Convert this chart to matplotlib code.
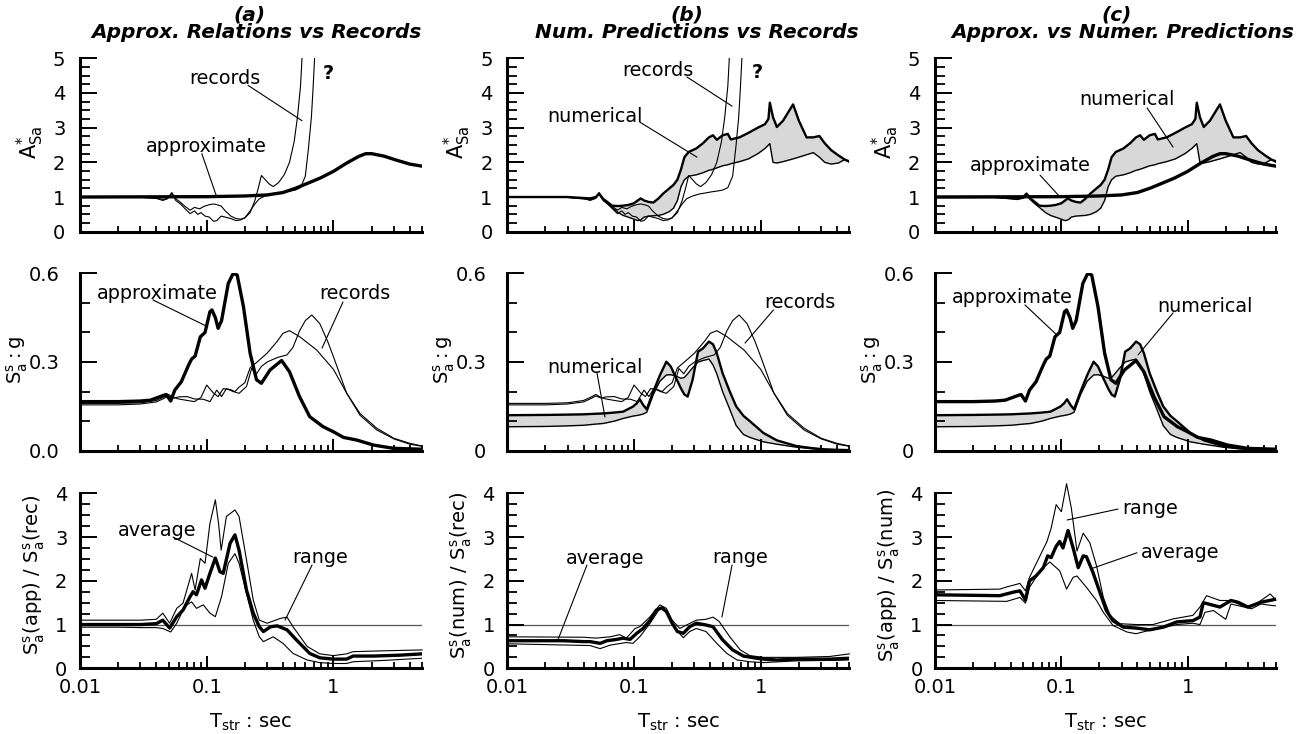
import numpy as np
import matplotlib
matplotlib.use('Agg')
import matplotlib.pyplot as plt
from matplotlib.ticker import FixedLocator, FixedFormatter, MultipleLocator, LogLocator, NullFormatter

plt.rcParams['font.family'] = ['DejaVu Sans']
plt.rcParams['mathtext.fontset'] = 'dejavusans'

# ---------------- top row: normalised spectral amplification A*_Sa ----------------
T_app_A = [0.01, 0.1, 0.2, 0.3, 0.4, 0.5, 0.63, 0.79, 1.0, 1.26, 1.58, 1.8, 2.0, 2.5, 3.16, 4.0, 5.0]
A_app = [1.0, 1.01, 1.03, 1.06, 1.13, 1.25, 1.4, 1.55, 1.74, 1.97, 2.17, 2.25, 2.25, 2.18, 2.06, 1.95, 1.89]

T_rec1_A = [0.01, 0.02, 0.03, 0.04, 0.045, 0.049, 0.053, 0.057, 0.062, 0.068, 0.074, 0.08, 0.088, 0.095,
            0.105, 0.113, 0.12, 0.13, 0.14, 0.155, 0.17, 0.185, 0.2, 0.22, 0.24, 0.255, 0.27, 0.29, 0.31,
            0.335, 0.37, 0.41, 0.45, 0.49, 0.52, 0.55, 0.565]
A_rec1 = [1.0, 1.0, 0.99, 0.97, 0.93, 0.96, 1.13, 0.95, 0.85, 0.72, 0.62, 0.7, 0.66, 0.73, 0.78, 0.8, 0.78,
          0.74, 0.6, 0.45, 0.38, 0.36, 0.4, 0.55, 0.9, 1.25, 1.62, 1.5, 1.38, 1.3, 1.42, 1.65, 2.0, 2.6,
          3.3, 4.2, 5.0]

T_rec2_A = [0.01, 0.02, 0.03, 0.04, 0.045, 0.049, 0.053, 0.057, 0.062, 0.068, 0.074, 0.08, 0.085, 0.09,
            0.097, 0.105, 0.113, 0.12, 0.13, 0.14, 0.155, 0.17, 0.185, 0.2, 0.22, 0.24, 0.26, 0.29, 0.33,
            0.37, 0.41, 0.45, 0.5, 0.55, 0.6, 0.635, 0.67, 0.69, 0.71]
A_rec2 = [1.0, 1.0, 0.99, 0.96, 0.9, 0.95, 1.1, 0.9, 0.8, 0.65, 0.52, 0.6, 0.5, 0.55, 0.45, 0.42, 0.3, 0.32,
          0.45, 0.42, 0.38, 0.32, 0.34, 0.4, 0.6, 0.8, 0.95, 1.03, 1.09, 1.12, 1.15, 1.17, 1.2, 1.27, 1.6,
          2.4, 3.3, 4.1, 5.0]

T_num_A = [0.01, 0.03, 0.045, 0.05, 0.053, 0.057, 0.062, 0.067, 0.075, 0.082, 0.09, 0.1, 0.107, 0.113,
           0.12, 0.13, 0.142, 0.155, 0.17, 0.19, 0.205, 0.22, 0.235, 0.25, 0.27, 0.31, 0.35, 0.39, 0.42,
           0.45, 0.5, 0.55, 0.58, 0.68, 0.8, 0.95, 1.08, 1.15, 1.18, 1.25, 1.34, 1.5, 1.8, 2.0, 2.3, 2.6,
           2.9, 3.2, 3.6, 4.1, 4.6, 5.0]
A_num_hi = [1.0, 1.0, 0.96, 1.0, 1.1, 0.95, 0.85, 0.75, 0.74, 0.75, 0.77, 0.82, 0.9, 0.96, 0.9, 0.86, 0.84,
            0.95, 1.1, 1.25, 1.35, 1.5, 1.8, 2.15, 2.3, 2.4, 2.55, 2.72, 2.78, 2.65, 2.78, 2.82, 2.66, 2.72,
            2.85, 3.0, 3.1, 3.25, 3.72, 3.3, 3.02, 3.2, 3.67, 3.2, 2.72, 2.72, 2.76, 2.55, 2.35, 2.2, 2.08, 2.03]
A_num_lo = [1.0, 0.99, 0.93, 0.97, 1.08, 0.92, 0.8, 0.7, 0.55, 0.47, 0.42, 0.36, 0.32, 0.34, 0.42, 0.45,
            0.46, 0.47, 0.5, 0.58, 0.68, 0.9, 1.3, 1.5, 1.6, 1.64, 1.7, 1.77, 1.8, 1.84, 1.9, 1.93, 1.96,
            2.02, 2.1, 2.25, 2.4, 2.5, 2.54, 2.0, 1.98, 2.02, 2.1, 2.15, 2.22, 2.28, 2.15, 2.0, 1.95, 1.98,
            2.08, 2.0]

# ---------------- middle row: spectral acceleration Sa/g ----------------
T_app_S = [0.01, 0.02, 0.03, 0.036, 0.0455, 0.048, 0.052, 0.056, 0.063, 0.072, 0.076, 0.081, 0.089, 0.097,
           0.106, 0.11, 0.117, 0.123, 0.131, 0.148, 0.162, 0.174, 0.195, 0.22, 0.247, 0.27, 0.316, 0.39,
           0.45, 0.54, 0.65, 0.83, 1.0, 1.2, 1.53, 2.07, 2.98, 5.0]
S_app = [0.166, 0.166, 0.168, 0.171, 0.187, 0.19, 0.168, 0.205, 0.233, 0.29, 0.31, 0.32, 0.385, 0.4, 0.47,
         0.476, 0.45, 0.414, 0.44, 0.566, 0.6, 0.594, 0.487, 0.33, 0.24, 0.228, 0.273, 0.305, 0.267, 0.183,
         0.115, 0.081, 0.064, 0.045, 0.036, 0.019, 0.008, 0.005]

T_rec1_S = [0.01, 0.02, 0.03, 0.04, 0.045, 0.05, 0.055, 0.06, 0.07, 0.08, 0.09, 0.1, 0.113, 0.123, 0.135,
            0.153, 0.167, 0.18, 0.2, 0.22, 0.25, 0.3, 0.36, 0.4, 0.45, 0.54, 0.74, 1.0, 1.27, 1.62, 2.2,
            3.0, 4.0, 5.0]
S_rec1 = [0.16, 0.16, 0.162, 0.17, 0.18, 0.19, 0.18, 0.175, 0.17, 0.166, 0.18, 0.222, 0.195, 0.183, 0.21,
          0.207, 0.2, 0.215, 0.23, 0.28, 0.3, 0.33, 0.37, 0.397, 0.406, 0.386, 0.34, 0.275, 0.195, 0.126,
          0.076, 0.042, 0.025, 0.016]

T_rec2_S = [0.01, 0.02, 0.03, 0.04, 0.045, 0.05, 0.055, 0.06, 0.07, 0.08, 0.094, 0.106, 0.12, 0.131, 0.143,
            0.162, 0.18, 0.206, 0.226, 0.247, 0.27, 0.3, 0.36, 0.43, 0.48, 0.54, 0.6, 0.675, 0.78, 0.9,
            1.0, 1.27, 1.62, 2.2, 3.0, 4.0, 5.0]
S_rec2 = [0.155, 0.155, 0.158, 0.165, 0.175, 0.185, 0.178, 0.182, 0.183, 0.175, 0.174, 0.166, 0.205, 0.183,
          0.21, 0.2, 0.194, 0.217, 0.278, 0.26, 0.285, 0.3, 0.315, 0.324, 0.35, 0.405, 0.44, 0.459, 0.43,
          0.37, 0.318, 0.195, 0.12, 0.07, 0.04, 0.022, 0.015]

T_num_S = [0.01, 0.02, 0.03, 0.04, 0.05, 0.057, 0.07, 0.082, 0.098, 0.105, 0.111, 0.118, 0.126, 0.142,
           0.16, 0.18, 0.195, 0.215, 0.235, 0.25, 0.265, 0.29, 0.32, 0.35, 0.39, 0.42, 0.45, 0.5, 0.57,
           0.64, 0.73, 0.82, 1.05, 1.34, 1.9, 2.5, 3.1, 4.0, 5.0]
S_num_hi = [0.12, 0.121, 0.122, 0.123, 0.125, 0.126, 0.129, 0.132, 0.149, 0.16, 0.174, 0.155, 0.14, 0.2,
            0.255, 0.301, 0.285, 0.245, 0.21, 0.19, 0.183, 0.24, 0.335, 0.346, 0.369, 0.36, 0.33, 0.262,
            0.2, 0.15, 0.118, 0.1, 0.06, 0.035, 0.016, 0.009, 0.005, 0.003, 0.002]
S_num_lo = [0.081, 0.082, 0.084, 0.086, 0.09, 0.092, 0.1, 0.109, 0.117, 0.119, 0.121, 0.124, 0.13, 0.19,
            0.235, 0.256, 0.257, 0.252, 0.245, 0.248, 0.26, 0.28, 0.3, 0.305, 0.31, 0.29, 0.26, 0.2, 0.14,
            0.085, 0.055, 0.045, 0.03, 0.022, 0.012, 0.007, 0.004, 0.002, 0.002]

# ---------------- bottom row: ratios (average and range) ----------------
# (a) approximate / records
T_ra_avg = [0.01, 0.02, 0.03, 0.04, 0.045, 0.051, 0.058, 0.065, 0.074, 0.078, 0.083, 0.091, 0.097, 0.106,
            0.117, 0.127, 0.135, 0.153, 0.167, 0.18, 0.206, 0.233, 0.26, 0.28, 0.32, 0.36, 0.43, 0.51,
            0.65, 0.78, 1.0, 1.27, 1.43, 2.07, 3.35, 5.0]
Ra_avg = [1.0, 1.0, 1.0, 1.02, 1.1, 0.92, 1.18, 1.33, 1.64, 1.75, 1.68, 2.02, 1.83, 2.17, 2.52, 2.21, 2.17,
          2.86, 3.05, 2.7, 1.79, 1.26, 0.95, 0.84, 0.95, 0.97, 0.88, 0.65, 0.34, 0.24, 0.21, 0.21, 0.28,
          0.28, 0.3, 0.33]
T_ra_hi = [0.01, 0.02, 0.03, 0.04, 0.045, 0.051, 0.058, 0.065, 0.076, 0.081, 0.089, 0.097, 0.106, 0.117,
           0.124, 0.13, 0.143, 0.167, 0.18, 0.2, 0.233, 0.26, 0.3, 0.38, 0.43, 0.48, 0.62, 0.78, 1.0, 1.27,
           1.43, 2.5, 5.0]
Ra_hi = [1.1, 1.1, 1.1, 1.12, 1.26, 1.03, 1.37, 1.49, 2.17, 1.79, 2.51, 2.4, 3.31, 3.85, 3.31, 2.7, 3.47,
         3.62, 3.47, 2.7, 1.56, 1.1, 1.03, 1.14, 1.17, 0.95, 0.5, 0.33, 0.29, 0.33, 0.38, 0.4, 0.42]
T_ra_lo = [0.01, 0.02, 0.03, 0.04, 0.045, 0.052, 0.058, 0.067, 0.076, 0.083, 0.094, 0.106, 0.117, 0.131,
           0.148, 0.167, 0.18, 0.206, 0.233, 0.26, 0.28, 0.335, 0.4, 0.48, 0.62, 0.78, 1.0, 1.27, 1.43,
           2.5, 5.0]
Ra_lo = [0.94, 0.94, 0.93, 0.93, 0.91, 0.83, 1.03, 1.41, 1.52, 1.37, 1.45, 1.26, 1.18, 1.64, 2.4, 2.62, 2.4,
         1.71, 1.1, 0.72, 0.61, 0.72, 0.57, 0.34, 0.19, 0.13, 0.11, 0.11, 0.15, 0.18, 0.23]

# (b) numerical / records
T_rb_avg = [0.01, 0.028, 0.04, 0.045, 0.054, 0.061, 0.073, 0.082, 0.093, 0.105, 0.118, 0.134, 0.15, 0.165,
            0.18, 0.2, 0.22, 0.245, 0.275, 0.31, 0.37, 0.42, 0.5, 0.6, 0.73, 0.93, 1.05, 1.34, 1.9, 3.5, 5.0]
Rb_avg = [0.63, 0.63, 0.61, 0.61, 0.57, 0.63, 0.66, 0.69, 0.66, 0.8, 0.91, 1.1, 1.33, 1.38, 1.3, 1.03, 0.84,
          0.8, 0.95, 1.03, 0.99, 0.95, 0.65, 0.42, 0.28, 0.23, 0.21, 0.19, 0.21, 0.21, 0.23]
T_rb_hi = [0.01, 0.04, 0.05, 0.065, 0.077, 0.087, 0.102, 0.111, 0.134, 0.16, 0.18, 0.2, 0.23, 0.26, 0.31,
           0.37, 0.42, 0.47, 0.57, 0.69, 0.82, 1.05, 1.9, 3.5, 5.0]
Rb_hi = [0.72, 0.71, 0.69, 0.72, 0.77, 0.69, 0.91, 0.95, 1.18, 1.45, 1.37, 1.1, 0.91, 0.99, 1.1, 1.12, 1.17,
         1.07, 0.72, 0.42, 0.29, 0.25, 0.25, 0.27, 0.33]
T_rb_lo = [0.01, 0.045, 0.054, 0.065, 0.087, 0.098, 0.111, 0.134, 0.16, 0.17, 0.19, 0.215, 0.245, 0.275,
           0.31, 0.37, 0.45, 0.54, 0.65, 0.82, 1.05, 1.9, 3.5, 5.0]
Rb_lo = [0.56, 0.52, 0.45, 0.53, 0.59, 0.57, 0.72, 1.03, 1.37, 1.39, 1.18, 0.88, 0.7, 0.84, 0.91, 0.84, 0.57,
         0.34, 0.19, 0.15, 0.13, 0.17, 0.18, 0.19]

# (c) approximate / numerical
T_rc_avg = [0.01, 0.0326, 0.0416, 0.047, 0.052, 0.056, 0.063, 0.072, 0.078, 0.083, 0.091, 0.097, 0.103,
            0.113, 0.124, 0.136, 0.149, 0.158, 0.178, 0.2, 0.227, 0.256, 0.31, 0.39, 0.5, 0.64, 0.82, 1.1,
            1.25, 1.33, 1.46, 1.8, 2.2, 2.5, 3.0, 3.8, 5.0]
Rc_avg = [1.68, 1.66, 1.74, 1.77, 1.56, 2.0, 2.11, 2.3, 2.57, 2.53, 2.79, 2.9, 2.75, 3.15, 2.75, 2.3, 2.57,
          2.55, 2.19, 1.77, 1.32, 1.09, 0.94, 0.92, 0.88, 0.94, 1.06, 1.09, 1.17, 1.5, 1.47, 1.4, 1.55,
          1.51, 1.4, 1.51, 1.58]
T_rc_hi = [0.01, 0.0326, 0.037, 0.047, 0.052, 0.056, 0.077, 0.083, 0.091, 0.1, 0.11, 0.12, 0.133, 0.149,
           0.168, 0.19, 0.215, 0.243, 0.29, 0.39, 0.53, 0.77, 1.1, 1.25, 1.41, 1.8, 2.2, 2.7, 3.2, 3.8,
           4.5, 5.0]
Rc_hi = [1.79, 1.81, 1.86, 1.94, 1.77, 2.08, 2.9, 3.2, 3.74, 3.58, 4.22, 3.66, 2.68, 3.09, 2.87, 2.34, 1.62,
         1.21, 1.02, 1.0, 1.0, 1.13, 1.21, 1.4, 1.66, 1.55, 1.55, 1.43, 1.41, 1.55, 1.7, 1.56]
T_rc_lo = [0.01, 0.037, 0.047, 0.052, 0.056, 0.068, 0.081, 0.097, 0.11, 0.124, 0.133, 0.158, 0.19, 0.215,
           0.256, 0.33, 0.39, 0.47, 0.6, 0.82, 1.1, 1.25, 1.37, 1.6, 2.0, 2.2, 2.7, 3.2, 3.8, 4.8, 5.0]
Rc_lo = [1.55, 1.53, 1.62, 1.49, 1.85, 2.23, 2.43, 2.23, 1.81, 2.08, 2.11, 1.85, 1.55, 1.28, 0.98, 0.83,
         0.79, 0.85, 0.91, 1.0, 1.03, 1.0, 1.28, 1.32, 1.12, 1.47, 1.41, 1.36, 1.47, 1.43, 1.43]

titles = ['(a)', '(b)', '(c)']
subtitles = ['Approx. Relations vs Records', 'Num. Predictions vs Records', 'Approx. vs Numer. Predictions']
ratio_labels = [r'$\mathregular{S^{s}_{a}(app)\ /\ S^{s}_{a}(rec)}$',
                r'$\mathregular{S^{s}_{a}(num)\ /\ S^{s}_{a}(rec)}$',
                r'$\mathregular{S^{s}_{a}(app)\ /\ S^{s}_{a}(num)}$']

# ---------------- layout (pixels) ----------------
W, H = 1298, 734
fig = plt.figure(figsize=(W / 100, H / 100), dpi=100)
col_left = [80, 507.3, 935]
col_width = [342, 342, 341]
row_top = [58.3, 273.3, 493.3]
row_bot = [231.7, 450.7, 668.3]
row_pad = [10.5, 15, 9]
BAND = '#d8d8d8'
FS = 13.8


def make_ax(r, c):
    rect = [col_left[c] / W, 1 - row_bot[r] / H, col_width[c] / W, (row_bot[r] - row_top[r]) / H]
    ax = fig.add_axes(rect)
    ax.set_xscale('log')
    ax.set_xlim(0.01, 5)
    for s in ('top', 'right'):
        ax.spines[s].set_visible(False)
    for s in ('left', 'bottom'):
        ax.spines[s].set_linewidth(2.2)
    ax.xaxis.set_major_locator(FixedLocator([0.01, 0.1, 1]))
    ax.xaxis.set_minor_locator(LogLocator(base=10, subs=np.arange(2, 10), numticks=20))
    ax.xaxis.set_minor_formatter(NullFormatter())
    if r == 2:
        ax.xaxis.set_major_formatter(FixedFormatter(['0.01', '0.1', '1']))
    else:
        ax.xaxis.set_major_formatter(NullFormatter())
    ax.tick_params(which='both', direction='in', labelsize=14, width=1.4, colors='k')
    ax.tick_params(axis='x', which='major', length=8.5, pad=7)
    ax.tick_params(axis='x', which='minor', length=4.5, width=1.3)
    ax.tick_params(axis='y', which='major', length=12, pad=row_pad[r])
    ax.tick_params(axis='y', which='minor', length=7, width=1.3)
    return ax


def note(ax, label, txt, p0, p1, **kw):
    ax.text(txt[0], txt[1], label, ha='center', va='center', fontsize=FS, **kw)
    ax.annotate('', xy=p1, xytext=p0,
                arrowprops=dict(arrowstyle='-', lw=0.8, color='k', shrinkA=0, shrinkB=0))


def top_axis(ax):
    ax.set_ylim(0, 5)
    ax.yaxis.set_major_locator(MultipleLocator(1))
    ax.yaxis.set_minor_locator(MultipleLocator(0.25))


def mid_axis(ax, zero):
    ax.set_ylim(0, 0.6)
    ax.yaxis.set_major_locator(FixedLocator([0, 0.3, 0.6]))
    ax.yaxis.set_major_formatter(FixedFormatter([zero, '0.3', '0.6']))
    ax.yaxis.set_minor_locator(MultipleLocator(0.1))


def bot_axis(ax):
    ax.set_ylim(0, 4)
    ax.yaxis.set_major_locator(MultipleLocator(1))
    ax.yaxis.set_minor_locator(MultipleLocator(0.25))


thin = dict(color='k', lw=0.8, solid_joinstyle='round')
thick = dict(color='k', lw=2.4, solid_joinstyle='round')

# ---- row 1 ----
ax = make_ax(0, 0); top_axis(ax)
ax.plot(T_rec1_A, A_rec1, **thin)
ax.plot(T_rec2_A, A_rec2, **thin)
ax.plot(T_app_A, A_app, **thick)
note(ax, 'records', (0.139, 4.42), (0.212, 4.22), (0.565, 3.2))
ax.text(0.906, 4.56, '?', fontsize=FS, fontweight='bold', ha='center', va='center')
note(ax, 'approximate', (0.0988, 2.45), (0.0915, 2.25), (0.12, 1.0))

ax = make_ax(0, 1); top_axis(ax)
ax.fill_between(T_num_A, A_num_lo, A_num_hi, color=BAND, lw=0)
ax.plot(T_num_A, A_num_lo, color='k', lw=1.0)
ax.plot(T_num_A, A_num_hi, color='k', lw=1.7)
ax.plot(T_rec1_A, A_rec1, **thin)
ax.plot(T_rec2_A, A_rec2, **thin)
note(ax, 'records', (0.155, 4.66), (0.262, 4.46), (0.594, 3.62))
ax.text(0.935, 4.6, '?', fontsize=FS, fontweight='bold', ha='center', va='center')
note(ax, 'numerical', (0.0492, 3.31), (0.111, 3.16), (0.314, 2.15))

ax = make_ax(0, 2); top_axis(ax)
ax.fill_between(T_num_A, A_num_lo, A_num_hi, color=BAND, lw=0)
ax.plot(T_num_A, A_num_lo, color='k', lw=1.0)
ax.plot(T_num_A, A_num_hi, color='k', lw=1.7)
ax.plot(T_app_A, A_app, **thick)
note(ax, 'numerical', (0.331, 3.8), (0.477, 3.57), (0.766, 2.44))
note(ax, 'approximate', (0.0565, 1.92), (0.0678, 1.63), (0.0977, 1.0))

# ---- row 2 ----
ax = make_ax(1, 0); mid_axis(ax, '0.0')
ax.plot(T_rec1_S, S_rec1, **thin)
ax.plot(T_rec2_S, S_rec2, **thin)
ax.plot(T_app_S, S_app, **thick)
note(ax, 'approximate', (0.0406, 0.533), (0.0376, 0.51), (0.102, 0.419))
note(ax, 'records', (1.48, 0.533), (1.19, 0.503), (0.813, 0.347))

ax = make_ax(1, 1); mid_axis(ax, '0')
ax.fill_between(T_num_S, S_num_lo, S_num_hi, color=BAND, lw=0)
ax.plot(T_num_S, S_num_lo, color='k', lw=1.0)
ax.plot(T_num_S, S_num_hi, color='k', lw=1.7)
ax.plot(T_rec1_S, S_rec1, **thin)
ax.plot(T_rec2_S, S_rec2, **thin)
note(ax, 'numerical', (0.0492, 0.28), (0.051, 0.263), (0.059, 0.114))
note(ax, 'records', (2.05, 0.5), (1.26, 0.476), (0.752, 0.364))

ax = make_ax(1, 2); mid_axis(ax, '0')
ax.fill_between(T_num_S, S_num_lo, S_num_hi, color=BAND, lw=0)
ax.plot(T_num_S, S_num_lo, color='k', lw=1.0)
ax.plot(T_num_S, S_num_hi, color='k', lw=1.7)
ax.plot(T_app_S, S_app, **thick)
note(ax, 'approximate', (0.0407, 0.519), (0.0515, 0.493), (0.0924, 0.391))
note(ax, 'numerical', (1.37, 0.488), (0.766, 0.466), (0.405, 0.324))

# ---- row 3 ----
ratios = [(T_ra_avg, Ra_avg, T_ra_hi, Ra_hi, T_ra_lo, Ra_lo),
          (T_rb_avg, Rb_avg, T_rb_hi, Rb_hi, T_rb_lo, Rb_lo),
          (T_rc_avg, Rc_avg, T_rc_hi, Rc_hi, T_rc_lo, Rc_lo)]
bottom_axes = []
for c, (ta, ra, th, rh, tl, rl) in enumerate(ratios):
    ax = make_ax(2, c); bot_axis(ax)
    ax.axhline(1, color='#555555', lw=0.9, zorder=1)
    ax.plot(th, rh, clip_on=False, **thin)
    ax.plot(tl, rl, **thin)
    ax.plot(ta, ra, **thick)
    bottom_axes.append(ax)

note(bottom_axes[0], 'average', (0.0406, 3.16), (0.0542, 3.0), (0.112, 2.54))
note(bottom_axes[0], 'range', (0.783, 2.54), (0.678, 2.36), (0.415, 1.1))
note(bottom_axes[1], 'average', (0.059, 2.52), (0.0425, 2.36), (0.0251, 0.65))
note(bottom_axes[1], 'range', (0.686, 2.54), (0.594, 2.36), (0.494, 1.17))
note(bottom_axes[2], 'range', (0.504, 3.66), (0.281, 3.64), (0.111, 3.39))
note(bottom_axes[2], 'average', (0.871, 2.64), (0.397, 2.64), (0.178, 2.29))

# ---- titles and axis labels (figure pixel positions) ----
title_x = [(250, 257), (687, 697), (1117, 1123)]
for c in range(3):
    fig.text(title_x[c][0] / W, 1 - 15 / H, titles[c], ha='center', va='center',
             fontsize=14.5, fontweight='bold', style='italic')
    fig.text(title_x[c][1] / W, 1 - 32 / H, subtitles[c], ha='center', va='center',
             fontsize=14.5, fontweight='bold', style='italic')
    dx = col_left[c] - col_left[0]
    fig.text((30 + dx) / W, 1 - 142 / H, r'$\mathregular{A^{*}_{Sa}}$', rotation=90,
             ha='center', va='center', fontsize=15)
    fig.text((17 + dx) / W, 1 - 360 / H, r'$\mathregular{S^{s}_{a}:g}$', rotation=90,
             ha='center', va='center', fontsize=14)
    fig.text((34 + dx) / W, 1 - 575 / H, ratio_labels[c], rotation=90,
             ha='center', va='center', fontsize=14)
    cx = col_left[c] + col_width[c] / 2
    fig.text(cx / W, 1 - 728 / H, r'$\mathregular{T_{str}}$ : sec', ha='center', va='baseline',
             fontsize=14)

fig.savefig('out.png', dpi=100)
